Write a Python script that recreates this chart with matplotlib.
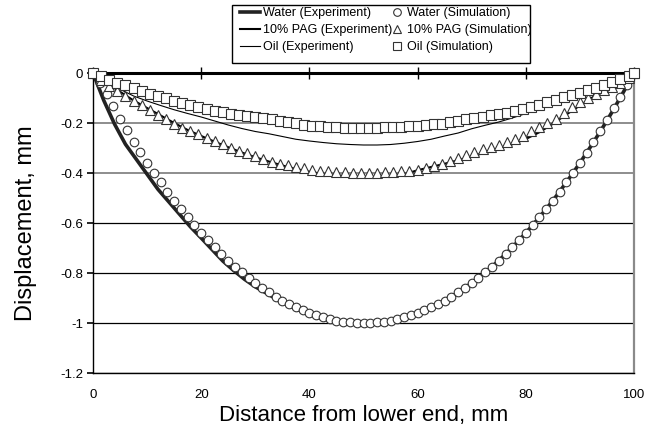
import matplotlib
matplotlib.use("Agg")
import matplotlib.pyplot as plt
from matplotlib.patches import Rectangle

# Water, simulation (circles)
x_water_sim = [0, 1.25, 2.5, 3.75, 5, 6.25, 7.5, 8.75, 10, 11.25, 12.5, 13.75, 15, 16.25,
               17.5, 18.75, 20, 21.25, 22.5, 23.75, 25, 26.25, 27.5, 28.75, 30, 31.25,
               32.5, 33.75, 35, 36.25, 37.5, 38.75, 40, 41.25, 42.5, 43.75, 45, 46.25,
               47.5, 48.75, 50, 51.25, 52.5, 53.75, 55, 56.25, 57.5, 58.75, 60, 61.25,
               62.5, 63.75, 65, 66.25, 67.5, 68.75, 70, 71.25, 72.5, 73.75, 75, 76.25,
               77.5, 78.75, 80, 81.25, 82.5, 83.75, 85, 86.25, 87.5, 88.75, 90, 91.25,
               92.5, 93.75, 95, 96.25, 97.5, 98.75, 100]
y_water_sim = [0, -0.040, -0.085, -0.132, -0.182, -0.228, -0.274, -0.317, -0.360, -0.399,
               -0.437, -0.474, -0.510, -0.544, -0.577, -0.609, -0.640, -0.669, -0.697,
               -0.724, -0.750, -0.774, -0.797, -0.819, -0.840, -0.859, -0.877, -0.894,
               -0.910, -0.924, -0.937, -0.949, -0.960, -0.969, -0.977, -0.984, -0.990,
               -0.994, -0.997, -0.999, -1.000, -0.999, -0.997, -0.994, -0.990, -0.984,
               -0.977, -0.969, -0.960, -0.949, -0.937, -0.924, -0.910, -0.894, -0.877,
               -0.859, -0.840, -0.819, -0.797, -0.774, -0.750, -0.724, -0.697, -0.669,
               -0.640, -0.609, -0.577, -0.544, -0.510, -0.474, -0.437, -0.399, -0.360,
               -0.319, -0.276, -0.232, -0.186, -0.140, -0.095, -0.048, 0.0]

# Water, experiment (thick line)
x_water_exp = [0, 2, 4, 6, 8, 10, 12, 14, 16, 18, 20, 22, 24, 26, 28, 30, 32, 34, 36, 38,
               40, 42, 44, 46, 48, 50, 52, 54, 56, 58, 60, 62, 64, 66, 68, 70, 72, 74, 76,
               78, 80, 82, 84, 86, 88, 90, 92, 94, 96, 98, 100]
y_water_exp = [0, -0.110, -0.205, -0.285, -0.345, -0.405, -0.465, -0.515, -0.565, -0.615,
               -0.660, -0.706, -0.752, -0.790, -0.825, -0.855, -0.880, -0.905, -0.928,
               -0.948, -0.965, -0.980, -0.992, -0.998, -1.000, -0.998, -0.996, -0.993,
               -0.986, -0.974, -0.960, -0.942, -0.922, -0.898, -0.870, -0.840, -0.806,
               -0.770, -0.730, -0.686, -0.640, -0.590, -0.538, -0.482, -0.422, -0.360,
               -0.294, -0.226, -0.154, -0.078, 0.0]

# 10% PAG, simulation (triangles)
x_pag_sim = [0, 1.5, 3, 4.5, 6, 7.5, 9, 10.5, 12, 13.5, 15, 16.5, 18, 19.5, 21, 22.5, 24,
             25.5, 27, 28.5, 30, 31.5, 33, 34.5, 36, 37.5, 39, 40.5, 42, 43.5, 45, 46.5,
             48, 49.5, 51, 52.5, 54, 55.5, 57, 58.5, 60, 61.5, 63, 64.5, 66, 67.5, 69,
             70.5, 72, 73.5, 75, 76.5, 78, 79.5, 81, 82.5, 84, 85.5, 87, 88.5, 90, 91.5,
             93, 94.5, 96, 97.5, 99, 100]
y_pag_sim = [0, -0.028, -0.052, -0.070, -0.093, -0.110, -0.128, -0.148, -0.166, -0.184,
             -0.203, -0.218, -0.230, -0.243, -0.258, -0.272, -0.285, -0.298, -0.310,
             -0.321, -0.332, -0.344, -0.354, -0.362, -0.369, -0.376, -0.381, -0.386,
             -0.390, -0.393, -0.395, -0.397, -0.398, -0.399, -0.399, -0.398, -0.397,
             -0.395, -0.393, -0.390, -0.386, -0.381, -0.373, -0.363, -0.350, -0.338,
             -0.326, -0.315, -0.305, -0.296, -0.287, -0.276, -0.264, -0.250, -0.233,
             -0.215, -0.200, -0.183, -0.158, -0.137, -0.117, -0.099, -0.083, -0.068,
             -0.054, -0.040, -0.018, 0.0]

# 10% PAG, experiment
x_pag_exp = [0, 2.5, 5, 7.5, 10, 12.5, 15, 17.5, 20, 22.5, 25, 27.5, 30, 32.5, 35, 37.5,
             40, 42.5, 45, 47.5, 50, 52.5, 55, 57.5, 60, 62.5, 65, 67.5, 70, 72.5, 75,
             77.5, 80, 82.5, 85, 87.5, 90, 92.5, 95, 97.5, 100]
y_pag_exp = [0, -0.040, -0.075, -0.110, -0.140, -0.170, -0.200, -0.228, -0.252, -0.275,
             -0.297, -0.318, -0.337, -0.354, -0.370, -0.384, -0.395, -0.404, -0.410,
             -0.414, -0.416, -0.417, -0.414, -0.405, -0.389, -0.376, -0.363, -0.349,
             -0.334, -0.318, -0.302, -0.285, -0.264, -0.237, -0.203, -0.166, -0.130,
             -0.095, -0.062, -0.028, 0.0]

# Oil, simulation (squares)
x_oil_sim = x_pag_sim
y_oil_sim = [0, -0.012, -0.027, -0.039, -0.047, -0.059, -0.072, -0.083, -0.092, -0.100,
             -0.110, -0.118, -0.127, -0.136, -0.143, -0.151, -0.157, -0.163, -0.168,
             -0.172, -0.176, -0.180, -0.185, -0.190, -0.196, -0.200, -0.206, -0.210,
             -0.213, -0.215, -0.217, -0.219, -0.220, -0.220, -0.219, -0.218, -0.217,
             -0.216, -0.214, -0.212, -0.210, -0.207, -0.205, -0.203, -0.197, -0.190,
             -0.184, -0.178, -0.174, -0.168, -0.163, -0.158, -0.151, -0.143, -0.135,
             -0.126, -0.116, -0.106, -0.097, -0.088, -0.078, -0.069, -0.058, -0.046,
             -0.035, -0.025, -0.010, 0.0]

# Oil, experiment (thin line)
x_oil_exp = x_pag_exp
y_oil_exp = [0, -0.030, -0.065, -0.092, -0.112, -0.130, -0.147, -0.162, -0.176, -0.192,
             -0.208, -0.222, -0.234, -0.243, -0.254, -0.265, -0.272, -0.278, -0.283,
             -0.286, -0.288, -0.288, -0.286, -0.281, -0.274, -0.265, -0.252, -0.240,
             -0.223, -0.209, -0.196, -0.180, -0.162, -0.142, -0.124, -0.103, -0.082,
             -0.062, -0.042, -0.020, 0.0]

x_ticks = [0, 20, 40, 60, 80, 100]
y_ticks = [0, -0.2, -0.4, -0.6, -0.8, -1.0, -1.2]
y_tick_labels = ["0", "-0.2", "-0.4", "-0.6", "-0.8", "-1", "-1.2"]

exp_labels = ["Water (Experiment)", "10% PAG (Experiment)", "Oil (Experiment)"]
sim_labels = ["Water (Simulation)", "10% PAG (Simulation)", "Oil (Simulation)"]

plt.rcParams["font.family"] = ["Liberation Sans", "DejaVu Sans"]

W, H = 647, 428
fig = plt.figure(figsize=(W / 100, H / 100), dpi=100)
ax = fig.add_axes([93 / W, 1 - 373 / H, 541 / W, 300 / H])

ax.set_xlim(0, 100)
ax.set_ylim(-1.2, 0)

ax.set_yticks(y_ticks)
ax.set_yticklabels(y_tick_labels, fontsize=9.5)
ax.yaxis.grid(True, color="black", linewidth=0.9)
for i, gl in enumerate(ax.get_ygridlines()):
    if i in (1, 2):
        gl.set_color("#7a7a7a")
        gl.set_linewidth(1.2)
ax.set_axisbelow(True)

ax.set_xticks(x_ticks)
ax.set_xticklabels([str(v) for v in x_ticks], fontsize=9.5)
ax.tick_params(axis="x", bottom=False, top=True, labelbottom=True, labeltop=False,
               direction="inout", length=9, width=1, pad=7)
ax.tick_params(axis="y", direction="out", length=4, width=1.2, pad=3)

ax.spines["top"].set_linewidth(2.2)
ax.spines["left"].set_linewidth(1.0)
ax.spines["bottom"].set_linewidth(1.0)
ax.spines["right"].set_color("#8a8a8a")
ax.spines["right"].set_linewidth(1.6)

edge = "#333333"
l1, = ax.plot(x_water_exp, y_water_exp, color="#222222", lw=2.6, zorder=3)
l2, = ax.plot(x_pag_exp, y_pag_exp, color="black", lw=1.5, zorder=3)
l3, = ax.plot(x_oil_exp, y_oil_exp, color="black", lw=0.8, zorder=3)
m1, = ax.plot(x_water_sim, y_water_sim, ls="none", marker="o", ms=6.2, mfc="white",
              mec=edge, mew=0.8, zorder=4, clip_on=False)
m2, = ax.plot(x_pag_sim, y_pag_sim, ls="none", marker="^", ms=7, mfc="white",
              mec=edge, mew=0.8, zorder=4, clip_on=False)
m3, = ax.plot(x_oil_sim, y_oil_sim, ls="none", marker="s", ms=6.5, mfc="white",
              mec=edge, mew=0.8, zorder=5, clip_on=False)

ax.set_xlabel("Distance from lower end, mm", fontsize=16, labelpad=3)
ax.set_ylabel("Displacement, mm", fontsize=17, labelpad=17)

# legend: frame drawn separately, two columns with different handle lengths
fig.patches.append(Rectangle((232 / W, 1 - 63 / H), 298 / W, 58 / H,
                             transform=fig.transFigure, facecolor="white",
                             edgecolor="black", linewidth=1.0, zorder=0))
common = dict(loc="upper left", fontsize=9, frameon=False, borderpad=0,
              borderaxespad=0, labelspacing=0.4, handletextpad=0.25)
leg1 = fig.legend([l1, l2, l3], exp_labels, bbox_to_anchor=(240 / W, 1 - 7 / H),
                  handlelength=1.6, **common)
leg2 = fig.legend([m1, m2, m3], sim_labels, bbox_to_anchor=(391 / W, 1 - 7 / H),
                  handlelength=1.0, **common)
for h in leg2.legend_handles:
    h.set_markersize(5.5)

fig.savefig("out.png", dpi=100)
